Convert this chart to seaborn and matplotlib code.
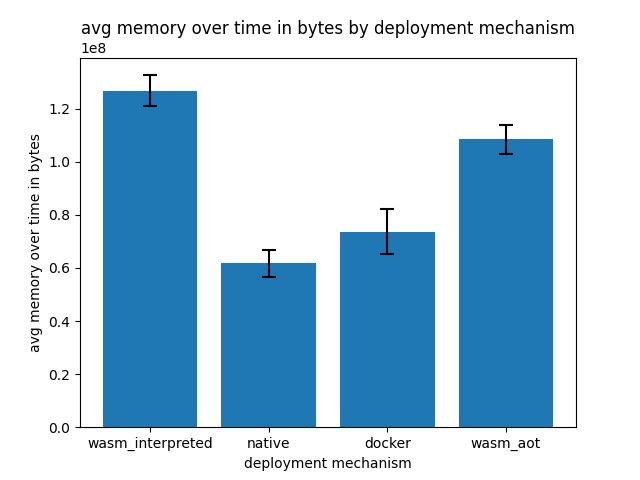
import matplotlib
matplotlib.use("Agg")
import matplotlib.pyplot as plt
import seaborn as sns
import pandas as pd

mechanisms = ["wasm_interpreted", "native", "docker", "wasm_aot"]
avg_memory = [1.268e8, 0.617e8, 0.737e8, 1.085e8]
memory_err = [0.058e8, 0.052e8, 0.086e8, 0.0545e8]

df = pd.DataFrame({"mechanism": mechanisms, "memory": avg_memory, "err": memory_err})

fig, ax = plt.subplots(figsize=(6.4, 4.8), dpi=100)
sns.barplot(data=df, x="mechanism", y="memory", color="#1f77b4", saturation=1,
            width=0.8, errorbar=None, ax=ax)
ax.errorbar(x=range(len(mechanisms)), y=df["memory"], yerr=df["err"],
            fmt="none", ecolor="black", capsize=5, elinewidth=1.5, capthick=1.5)
ax.set_title("avg memory over time in bytes by deployment mechanism")
ax.set_xlabel("deployment mechanism")
ax.set_ylabel("avg memory over time in bytes")
ax.set_xlim(-0.59, 3.59)
fig.savefig("out.png", dpi=100)
